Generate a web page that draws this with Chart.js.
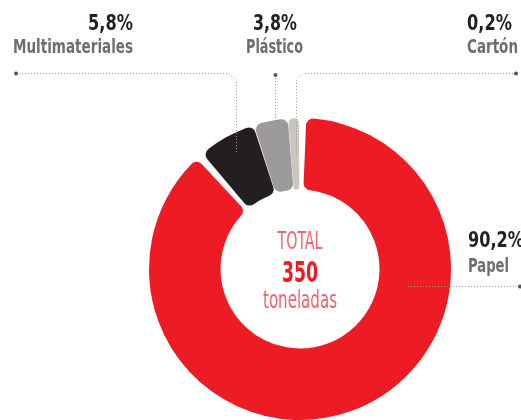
<!DOCTYPE html>
<html>
<head>
<meta charset="utf-8">
<script src="https://cdn.jsdelivr.net/npm/chart.js@4/dist/chart.umd.min.js"></script>
<style>
  html, body { margin: 0; padding: 0; background: #ffffff; overflow: hidden; }
  #grafica { display: block; }
</style>
</head>
<body>
<canvas id="grafica" width="521" height="420"></canvas>
<script>
// datos de la grafica
const materiales = ['Papel', 'Multimateriales', 'Plástico', 'Cartón'];
const porcentajes = ['90,2%', '5,8%', '3,8%', '0,2%'];
// tamaño de cada porcion tal como aparece dibujada (la de cartón se ve más ancha que su 0,2%)
const porciones = [88.9, 6.25, 3.7, 1.15];
const colores = ['#ed1c24', '#231f20', '#9d9a9a', '#cac6bd'];
const totalToneladas = '350';

const FUENTE = '"Liberation Sans Narrow", "DejaVu Sans Condensed", "Liberation Sans", sans-serif';

// escribe texto ajustado al ancho que ocupa en el original
function texto(ctx, str, x, y, size, weight, color, align, ancho) {
    ctx.save();
    ctx.font = weight + ' ' + size + 'px ' + FUENTE;
    ctx.fillStyle = color;
    ctx.textBaseline = 'alphabetic';
    const w = ctx.measureText(str).width;
    const sx = ancho ? ancho / w : 1;
    let x0 = x;
    if (align === 'right') x0 = x - w * sx;
    else if (align === 'center') x0 = x - w * sx / 2;
    ctx.translate(x0, y);
    ctx.scale(sx, 1);
    ctx.textAlign = 'left';
    ctx.fillText(str, 0, 0);
    ctx.restore();
}

function punteada(ctx, puntos, esquina) {
    ctx.save();
    ctx.strokeStyle = '#999999';
    ctx.lineWidth = 1;
    ctx.setLineDash([1, 2]);
    ctx.beginPath();
    ctx.moveTo(puntos[0][0], puntos[0][1]);
    for (let i = 1; i < puntos.length; i++) {
        ctx.lineTo(puntos[i][0], puntos[i][1]);
    }
    ctx.stroke();
    ctx.setLineDash([]);
    ctx.fillStyle = '#555555';
    ctx.beginPath();
    ctx.arc(esquina[0], esquina[1], 2, 0, Math.PI * 2);
    ctx.fill();
    ctx.restore();
}

const etiquetas = {
    id: 'etiquetas',
    afterDatasetsDraw(chart) {
        const ctx = chart.ctx;
        const arco = chart.getDatasetMeta(0).data[0];
        const cx = arco.x;

        // lineas guia
        punteada(ctx, [[16, 73.5], [229, 73.5], [236.5, 80], [236.5, 153]], [16, 73.5]);
        punteada(ctx, [[275.5, 75], [275.5, 157]], [275.5, 75]);
        punteada(ctx, [[516, 73.5], [303, 73.5], [296.5, 80], [296.5, 155]], [516, 73.5]);
        punteada(ctx, [[408, 286.5], [520, 286.5]], [520, 286.5]);

        // etiquetas de cada material
        const oscuro = '#231f20', gris = '#6d6e70';
        texto(ctx, porcentajes[1], 133, 30, 22, 'bold', oscuro, 'right', 45);
        texto(ctx, materiales[1], 133, 53, 19, 'bold', gris, 'right', 120);
        texto(ctx, porcentajes[2], 297, 30, 22, 'bold', oscuro, 'right', 44);
        texto(ctx, materiales[2], 303, 53, 19, 'bold', gris, 'right', 57);
        texto(ctx, porcentajes[3], 512, 30, 22, 'bold', oscuro, 'right', 45);
        texto(ctx, materiales[3], 518, 53, 19, 'bold', gris, 'right', 51);
        texto(ctx, porcentajes[0], 468, 247, 22, 'bold', oscuro, 'left', 56);
        texto(ctx, materiales[0], 468, 272, 19, 'bold', gris, 'left', 41);

        // texto central
        texto(ctx, 'TOTAL', cx, 249, 24, 'normal', '#f2626a', 'center', 45);
        texto(ctx, totalToneladas, cx, 282, 28, 'bold', '#ed1c24', 'center', 36);
        texto(ctx, 'toneladas', cx, 308, 24, 'normal', '#f2626a', 'center', 74);
    }
};

new Chart(document.getElementById('grafica').getContext('2d'), {
    type: 'doughnut',
    data: {
        labels: materiales,
        datasets: [{
            data: porciones,
            backgroundColor: colores,
            borderWidth: 0,
            borderRadius: 7,
            spacing: 4
        }]
    },
    options: {
        responsive: false,
        animation: false,
        rotation: -0.4,
        cutout: '52%',
        layout: {
            padding: { left: 149, right: 70, top: 118, bottom: 0 }
        },
        plugins: {
            legend: { display: false },
            tooltip: { enabled: false }
        }
    },
    plugins: [etiquetas]
});
</script>
</body>
</html>
